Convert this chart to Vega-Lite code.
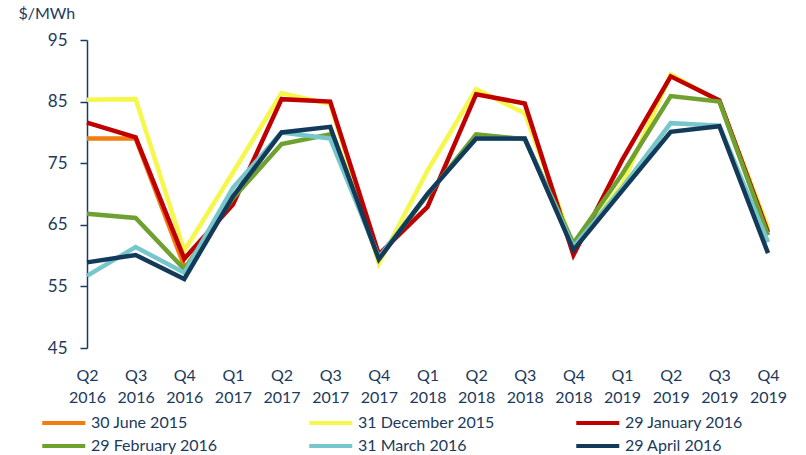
{
  "$schema": "https://vega.github.io/schema/vega-lite/v6.json",
  "width": 681,
  "height": 308,
  "autosize": "none",
  "padding": {"left": 87, "top": 40, "right": 38, "bottom": 107},
  "background": "white",
  "config": {
    "view": {"stroke": null},
    "font": "Lato",
    "axis": {"labelColor": "#1b3a5c", "titleColor": "#1b3a5c", "grid": false}
  },
  "data": {
    "values": [
      {"s": "30 June 2015", "q": "Q2 2016", "v": 79.0},
      {"s": "30 June 2015", "q": "Q3 2016", "v": 79.0},
      {"s": "30 June 2015", "q": "Q4 2016", "v": 58.3},

      {"s": "31 December 2015", "q": "Q2 2016", "v": 85.3},
      {"s": "31 December 2015", "q": "Q3 2016", "v": 85.4},
      {"s": "31 December 2015", "q": "Q4 2016", "v": 60.8},
      {"s": "31 December 2015", "q": "Q1 2017", "v": 73.5},
      {"s": "31 December 2015", "q": "Q2 2017", "v": 86.4},
      {"s": "31 December 2015", "q": "Q3 2017", "v": 84.6},
      {"s": "31 December 2015", "q": "Q4 2017", "v": 58.7},
      {"s": "31 December 2015", "q": "Q1 2018", "v": 73.8},
      {"s": "31 December 2015", "q": "Q2 2018", "v": 87.0},
      {"s": "31 December 2015", "q": "Q3 2018", "v": 83.1},
      {"s": "31 December 2015", "q": "Q4 2018", "v": 61.5},
      {"s": "31 December 2015", "q": "Q1 2019", "v": 71.5},
      {"s": "31 December 2015", "q": "Q2 2019", "v": 89.4},
      {"s": "31 December 2015", "q": "Q3 2019", "v": 85.0},
      {"s": "31 December 2015", "q": "Q4 2019", "v": 64.5},

      {"s": "29 January 2016", "q": "Q2 2016", "v": 81.6},
      {"s": "29 January 2016", "q": "Q3 2016", "v": 79.2},
      {"s": "29 January 2016", "q": "Q4 2016", "v": 59.5},
      {"s": "29 January 2016", "q": "Q1 2017", "v": 68.3},
      {"s": "29 January 2016", "q": "Q2 2017", "v": 85.4},
      {"s": "29 January 2016", "q": "Q3 2017", "v": 85.0},
      {"s": "29 January 2016", "q": "Q4 2017", "v": 60.2},
      {"s": "29 January 2016", "q": "Q1 2018", "v": 67.9},
      {"s": "29 January 2016", "q": "Q2 2018", "v": 86.2},
      {"s": "29 January 2016", "q": "Q3 2018", "v": 84.7},
      {"s": "29 January 2016", "q": "Q4 2018", "v": 60.1},
      {"s": "29 January 2016", "q": "Q1 2019", "v": 75.5},
      {"s": "29 January 2016", "q": "Q2 2019", "v": 89.1},
      {"s": "29 January 2016", "q": "Q3 2019", "v": 85.2},
      {"s": "29 January 2016", "q": "Q4 2019", "v": 63.8},

      {"s": "29 February 2016", "q": "Q2 2016", "v": 66.8},
      {"s": "29 February 2016", "q": "Q3 2016", "v": 66.1},
      {"s": "29 February 2016", "q": "Q4 2016", "v": 57.8},
      {"s": "29 February 2016", "q": "Q1 2017", "v": 69.3},
      {"s": "29 February 2016", "q": "Q2 2017", "v": 78.1},
      {"s": "29 February 2016", "q": "Q3 2017", "v": 79.7},
      {"s": "29 February 2016", "q": "Q4 2017", "v": 59.6},
      {"s": "29 February 2016", "q": "Q1 2018", "v": 69.8},
      {"s": "29 February 2016", "q": "Q2 2018", "v": 79.7},
      {"s": "29 February 2016", "q": "Q3 2018", "v": 78.9},
      {"s": "29 February 2016", "q": "Q4 2018", "v": 62.0},
      {"s": "29 February 2016", "q": "Q1 2019", "v": 73.2},
      {"s": "29 February 2016", "q": "Q2 2019", "v": 85.9},
      {"s": "29 February 2016", "q": "Q3 2019", "v": 85.0},
      {"s": "29 February 2016", "q": "Q4 2019", "v": 63.3},

      {"s": "31 March 2016", "q": "Q2 2016", "v": 56.7},
      {"s": "31 March 2016", "q": "Q3 2016", "v": 61.4},
      {"s": "31 March 2016", "q": "Q4 2016", "v": 57.2},
      {"s": "31 March 2016", "q": "Q1 2017", "v": 71.0},
      {"s": "31 March 2016", "q": "Q2 2017", "v": 80.0},
      {"s": "31 March 2016", "q": "Q3 2017", "v": 79.0},
      {"s": "31 March 2016", "q": "Q4 2017", "v": 59.7},
      {"s": "31 March 2016", "q": "Q1 2018", "v": 70.0},
      {"s": "31 March 2016", "q": "Q2 2018", "v": 79.0},
      {"s": "31 March 2016", "q": "Q3 2018", "v": 79.0},
      {"s": "31 March 2016", "q": "Q4 2018", "v": 61.4},
      {"s": "31 March 2016", "q": "Q1 2019", "v": 71.0},
      {"s": "31 March 2016", "q": "Q2 2019", "v": 81.5},
      {"s": "31 March 2016", "q": "Q3 2019", "v": 81.1},
      {"s": "31 March 2016", "q": "Q4 2019", "v": 62.2},

      {"s": "29 April 2016", "q": "Q2 2016", "v": 58.9},
      {"s": "29 April 2016", "q": "Q3 2016", "v": 60.1},
      {"s": "29 April 2016", "q": "Q4 2016", "v": 56.2},
      {"s": "29 April 2016", "q": "Q1 2017", "v": 69.6},
      {"s": "29 April 2016", "q": "Q2 2017", "v": 80.0},
      {"s": "29 April 2016", "q": "Q3 2017", "v": 80.9},
      {"s": "29 April 2016", "q": "Q4 2017", "v": 59.4},
      {"s": "29 April 2016", "q": "Q1 2018", "v": 70.0},
      {"s": "29 April 2016", "q": "Q2 2018", "v": 79.0},
      {"s": "29 April 2016", "q": "Q3 2018", "v": 79.0},
      {"s": "29 April 2016", "q": "Q4 2018", "v": 60.9},
      {"s": "29 April 2016", "q": "Q1 2019", "v": 70.5},
      {"s": "29 April 2016", "q": "Q2 2019", "v": 80.1},
      {"s": "29 April 2016", "q": "Q3 2019", "v": 81.0},
      {"s": "29 April 2016", "q": "Q4 2019", "v": 60.4}
    ]
  },
  "mark": {"type": "line", "strokeWidth": 4.5},
  "encoding": {
    "x": {
      "field": "q",
      "type": "ordinal",
      "sort": ["Q2 2016", "Q3 2016", "Q4 2016", "Q1 2017", "Q2 2017", "Q3 2017", "Q4 2017", "Q1 2018", "Q2 2018", "Q3 2018", "Q4 2018", "Q1 2019", "Q2 2019", "Q3 2019", "Q4 2019"],
      "scale": {"type": "point", "padding": 0},
      "axis": {
        "title": null,
        "domain": false,
        "ticks": false,
        "labelAngle": 0,
        "labelExpr": "split(datum.label, ' ')",
        "labelFontSize": 16,
        "labelLineHeight": 22,
        "labelBaseline": "top",
        "labelPadding": 19
      }
    },
    "y": {
      "field": "v",
      "type": "quantitative",
      "scale": {"domain": [45, 95], "nice": false, "zero": false},
      "axis": {
        "values": [45, 55, 65, 75, 85, 95],
        "domainColor": "#1b3a5c",
        "domainWidth": 1.5,
        "tickColor": "#1b3a5c",
        "tickWidth": 1.5,
        "tickSize": 7,
        "labelFontSize": 17,
        "labelPadding": 13,
        "title": "$/MWh",
        "titleAngle": 0,
        "titleX": -69,
        "titleY": -27,
        "titleAlign": "left",
        "titleBaseline": "middle",
        "titleFontSize": 16,
        "titleFontWeight": "normal"
      }
    },
    "color": {
      "field": "s",
      "type": "nominal",
      "sort": ["30 June 2015", "31 December 2015", "29 January 2016", "29 February 2016", "31 March 2016", "29 April 2016"],
      "scale": {
        "domain": ["30 June 2015", "31 December 2015", "29 January 2016", "29 February 2016", "31 March 2016", "29 April 2016"],
        "range": ["#f47c0c", "#f5f74a", "#c00000", "#6fa130", "#76c6cb", "#143a5a"]
      },
      "legend": {
        "title": null,
        "orient": "none",
        "legendX": -47,
        "legendY": 370,
        "direction": "horizontal",
        "columns": 3,
        "gridAlign": "all",
        "columnPadding": 73,
        "rowPadding": 2,
        "symbolType": "M-1,0H3",
        "symbolSize": 462,
        "symbolStrokeWidth": 4,
        "labelOffset": 25,
        "labelFontSize": 16,
        "labelColor": "#1b3a5c",
        "labelLimit": 300
      }
    }
  }
}
